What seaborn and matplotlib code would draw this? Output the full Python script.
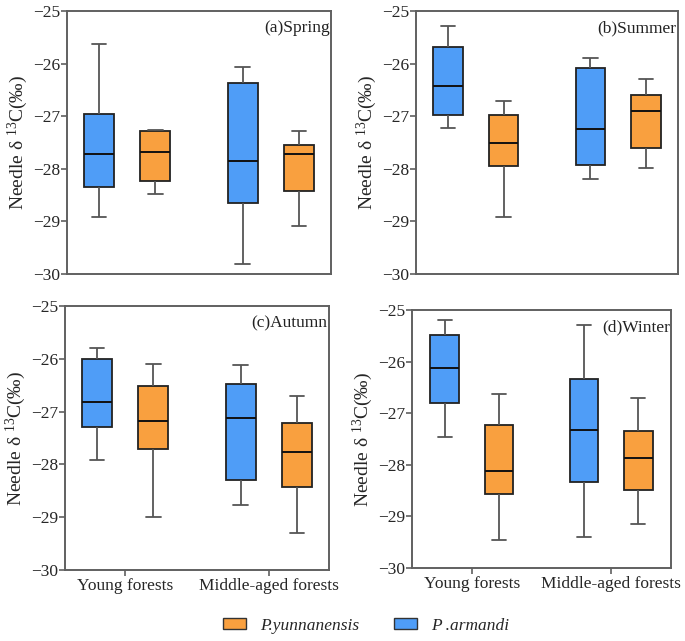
import numpy as np
import pandas as pd
import matplotlib
matplotlib.use("Agg")
import matplotlib.pyplot as plt
from matplotlib.patches import Patch
import seaborn as sns

# ---- data (five-number summaries: low whisker, Q1, median, Q3, high whisker) ----
seasons = ["(a)Spring", "(b)Summer", "(c)Autumn", "(d)Winter"]
forests = ["Young forests", "Middle-aged forests"]
species = ["P .armandi", "P.yunnanensis"]

spring_armandi = [[-28.92, -28.34, -27.72, -26.96, -25.63],
                  [-29.81, -28.65, -27.85, -26.37, -26.07]]
spring_yunnanensis = [[-28.48, -28.23, -27.69, -27.29, -27.27],
                      [-29.08, -28.43, -27.72, -27.54, -27.28]]
summer_armandi = [[-27.23, -26.97, -26.43, -25.69, -25.28],
                  [-28.19, -27.93, -27.25, -26.09, -25.89]]
summer_yunnanensis = [[-28.92, -27.94, -27.50, -26.97, -26.71],
                      [-27.99, -27.61, -26.90, -26.59, -26.29]]
autumn_armandi = [[-27.91, -27.29, -26.82, -26.01, -25.80],
                  [-28.76, -28.29, -27.13, -26.47, -26.12]]
autumn_yunnanensis = [[-29.00, -27.71, -27.17, -26.51, -26.09],
                      [-29.29, -28.43, -27.77, -27.21, -26.71]]
winter_armandi = [[-27.47, -26.81, -26.12, -25.49, -25.20],
                  [-29.39, -28.33, -27.32, -26.34, -25.29]]
winter_yunnanensis = [[-29.45, -28.57, -28.12, -27.23, -26.63],
                      [-29.15, -28.48, -27.87, -27.34, -26.70]]

season_data = {
    "(a)Spring": (spring_armandi, spring_yunnanensis),
    "(b)Summer": (summer_armandi, summer_yunnanensis),
    "(c)Autumn": (autumn_armandi, autumn_yunnanensis),
    "(d)Winter": (winter_armandi, winter_yunnanensis),
}

yticks = [-30, -29, -28, -27, -26, -25]
ytick_labels = ["\u221230", "\u221229", "\u221228", "\u221227", "\u221226", "\u221225"]

palette = {"P .armandi": "#4F9DF7", "P.yunnanensis": "#F9A03F"}

# ---- style ----
sns.set_theme(style="white")
plt.rcParams["font.family"] = ["Liberation Serif", "DejaVu Serif"]
plt.rcParams["mathtext.default"] = "regular"

fig = plt.figure(figsize=(6.85, 6.41), dpi=100)
W, H = 685.0, 641.0
# panel boxes in pixels: left, top, right, bottom
boxes = [(67, 11, 331, 274), (416, 11, 678, 274),
         (65, 306, 329, 570), (412, 310, 671, 568)]
xlims = [(-0.417, 1.417), (-0.42, 1.42), (-0.417, 1.417), (-0.43, 1.43)]

spine_col = "#606060"
FS = 12.5
for i, season in enumerate(seasons):
    l, t, r, b = boxes[i]
    ax = fig.add_axes([l / W, 1 - b / H, (r - l) / W, (b - t) / H])
    arm, yun = season_data[season]
    rows = []
    for sp, vals in zip(species, (arm, yun)):
        for f, five in zip(forests, vals):
            for v in five:
                rows.append({"forest": f, "species": sp, "value": v})
    df = pd.DataFrame(rows)
    sns.boxplot(data=df, x="forest", y="value", hue="species",
                order=forests, hue_order=species, palette=palette,
                whis=(0, 100), width=0.78, gap=0.47, fliersize=0,
                linewidth=1.2, linecolor="#222222", saturation=1,
                legend=False, ax=ax,
                whiskerprops=dict(color="#555555", linewidth=1.3),
                capprops=dict(color="#555555", linewidth=1.3),
                medianprops=dict(color="#111111", linewidth=1.4),
                boxprops=dict(edgecolor="#222222", linewidth=1.3))
    ax.set_xlim(*xlims[i])
    ax.set_ylim(-30, -25)
    ax.set_yticks(yticks)
    ax.set_yticklabels(ytick_labels, fontsize=FS)
    ax.set_ylabel("Needle δ $^{13}$C(‰)", fontsize=14, labelpad=2)
    ax.set_xlabel("")
    for s in ax.spines.values():
        s.set_visible(True)
        s.set_color(spine_col)
        s.set_linewidth(1.4)
    if i >= 2:
        ax.set_xticks([0, 1])
        ax.set_xticklabels(forests, fontsize=FS)
        ax.tick_params(axis="x", bottom=True, length=4, width=1.2,
                       color=spine_col, pad=2)
    else:
        ax.set_xticks([])
    ax.tick_params(axis="y", left=True, length=4, width=1.2,
                   color=spine_col, pad=1)
    ax.text(0.995, 0.965, season, transform=ax.transAxes, ha="right",
            va="top", fontsize=FS, color="#222222")

handles = [Patch(facecolor=palette["P.yunnanensis"], edgecolor="#333333", linewidth=1.0),
           Patch(facecolor=palette["P .armandi"], edgecolor="#333333", linewidth=1.0)]
labels = ["P.yunnanensis", "P .armandi"]
leg = fig.legend(handles, labels, loc="center",
                 bbox_to_anchor=(366 / W, 1 - 626 / H), ncol=2, frameon=False,
                 handlelength=1.35, handleheight=0.6, columnspacing=2.0,
                 prop={"style": "italic", "size": FS})

fig.savefig("out.png", dpi=100)
